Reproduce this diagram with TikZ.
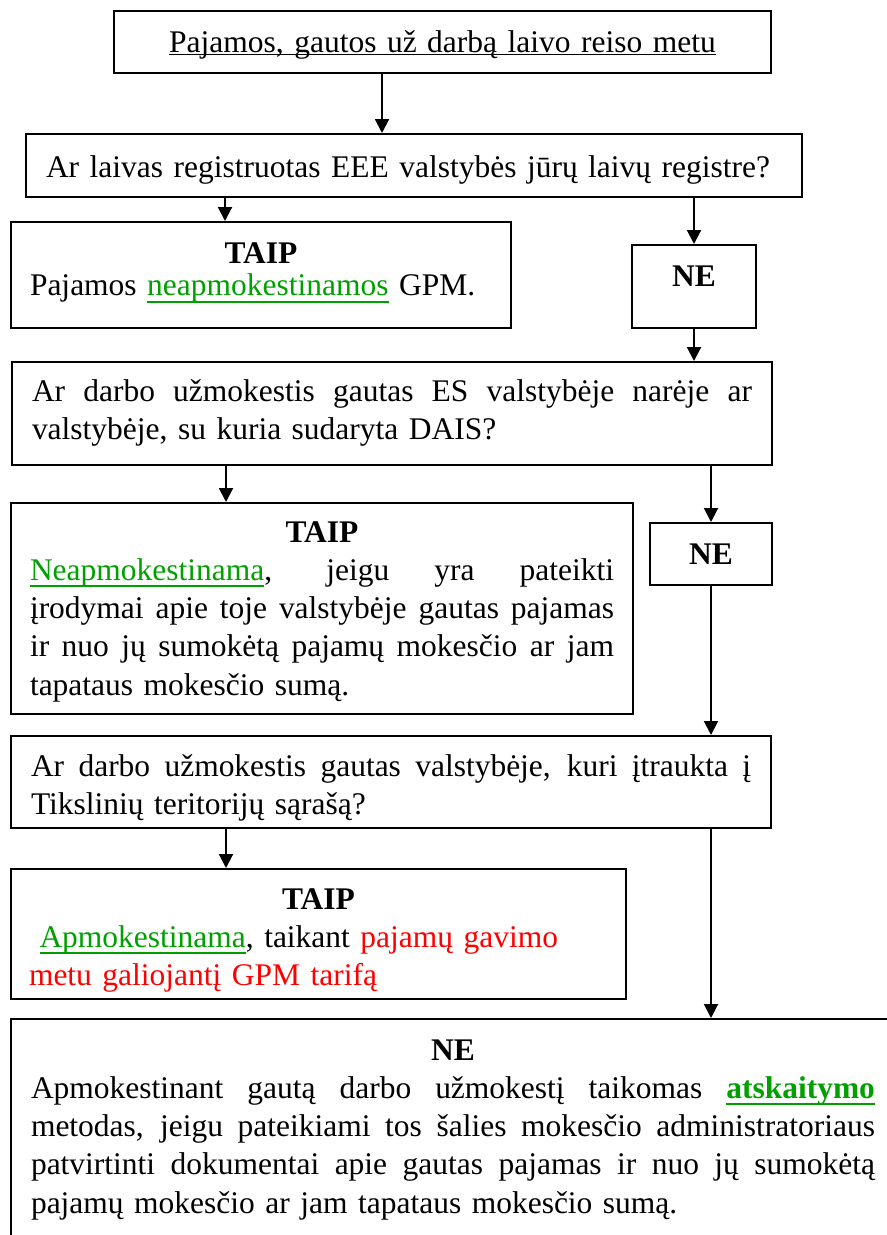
\documentclass[tikz,border=0pt]{standalone}
\usepackage{fontspec}
\setmainfont{Liberation Serif}
\usetikzlibrary{arrows.meta}
\definecolor{ltgreen}{RGB}{0,160,0}
\definecolor{ltred}{RGB}{255,0,0}
\newdimen\pxu \pxu=0.37313pt
\newcommand{\jline}[1]{{\leftskip=0pt\rightskip=0pt\spaceskip=0.25em plus 1fil\parfillskip=0pt #1\par}}
\newcommand{\uln}[2][2.6pt]{\setbox0\hbox{#2}\rlap{\rule[-#1]{\wd0}{0.7pt}}\box0}
\tikzset{
  box/.style={draw, line width=0.75pt, anchor=north west, inner ysep=0pt,
    inner xsep=20\pxu, font=\fontsize{11.75pt}{14.3pt}\selectfont},
  arr/.style={-{Triangle[length=5.2pt,width=5.2pt]}, line width=0.75pt},
}
\begin{document}
\begin{tikzpicture}[x=0.37313pt, y=-0.37313pt]
    \useasboundingbox (0,0) rectangle (887,1235);
    \clip (0,0) rectangle (887,1235);
    \node[box, inner xsep=0pt, text width=657\pxu, text height=41\pxu, text depth=21\pxu] (title) at (113,10) {\centering\uln[1.3pt]{Pajamos, gautos už darbą laivo reiso metu}\par};
    \node[box, text width=736\pxu, text height=43\pxu, text depth=20\pxu] (q1) at (25,133) {\mbox{Ar laivas registruotas EEE valstybės jūrų laivų registre?}};
    \node[box, inner xsep=19\pxu, text width=462\pxu, text height=41\pxu, text depth=65\pxu, font=\fontsize{11.75pt}{12.3pt}\selectfont] (yes1) at (10,221) {{\centering\textbf{TAIP}\par}
      Pajamos \textcolor{ltgreen}{\uln{neapmokestinamos}} GPM.};
    \node[box, inner xsep=0pt, text width=124\pxu, text height=41\pxu, text depth=42\pxu] (no1) at (631,244) {\centering\textbf{NE}\par};
    %%%%%%%%%%%%%%%%%%%%%%%%%%%%%%%%%%
    \node[box, text width=720\pxu, text height=39\pxu, text depth=64\pxu] (q2) at (11,361) {\jline{Ar darbo užmokestis gautas ES valstybėje narėje ar}
      valstybėje, su kuria sudaryta DAIS?};
    \node[box, inner xsep=19\pxu, text width=584\pxu, text height=39\pxu, text depth=172\pxu] (yes2) at (10,502) {{\centering\textbf{TAIP}\par}
      \jline{\textcolor{ltgreen}{\uln{Neapmokestinama}}, jeigu yra pateikti}
      \jline{įrodymai apie toje valstybėje gautas pajamas}
      \jline{ir nuo jų sumokėtą pajamų mokesčio ar jam}
      tapataus mokesčio sumą.};
    \node[box, inner xsep=0pt, text width=122\pxu, text height=41\pxu, text depth=21\pxu] (no2) at (649,522) {\centering\textbf{NE}\par};
    %%%%%%%%%%%%%%%%%%%%%%%%%%%%%%%%%%
    \node[box, text width=720\pxu, text height=40\pxu, text depth=52\pxu] (q3) at (10,735) {\jline{Ar darbo užmokestis gautas valstybėje, kuri įtraukta į}
      Tikslinių teritorijų sąrašą?};
    \node[box, inner xsep=18\pxu, text width=579\pxu, text height=40\pxu, text depth=90\pxu] (yes3) at (10,868) {{\centering\textbf{TAIP}\par}
      \ \textcolor{ltgreen}{\uln{Apmokestinama}}, taikant \textcolor{ltred}{pajamų gavimo\\ metu galiojantį GPM tarifą}};
    \node[box, text width=844\pxu, text height=41\pxu, text depth=260\pxu] (no3) at (10,1018) {{\centering\textbf{NE}\par}
      \jline{Apmokestinant gautą darbo užmokestį taikomas \textbf{\textcolor{ltgreen}{\uln{atskaitymo}}}}
      \jline{metodas, jeigu pateikiami tos šalies mokesčio administratoriaus}
      \jline{patvirtinti dokumentai apie gautas pajamas ir nuo jų sumokėtą}
      pajamų mokesčio ar jam tapataus mokesčio sumą.};
    %%%%%%%%%%%%%%%%%%%%%%%%%%%%%%%%%%
    \coordinate (s1) at ([xshift=-60.5\pxu]title.south);
    \coordinate (s2) at ([xshift=-189\pxu]q1.south);
    \coordinate (s3) at ([xshift=-166\pxu]q2.south);
    \coordinate (s4) at ([xshift=-165\pxu]q3.south);
    \draw[arr] (s1) -- (s1 |- q1.north); % titre
    \draw[arr] (s2) -- (s2 |- yes1.north); % taip 1
    \draw[arr] (no1.north |- q1.south) -- (no1.north); % ne 1
    \draw[arr] (no1.south) -- (no1.south |- q2.north);
    \draw[arr] (s3) -- (s3 |- yes2.north); % taip 2
    \draw[arr] (no2.north |- q2.south) -- (no2.north); % ne 2
    \draw[arr] (no2.south) -- (no2.south |- q3.north);
    \draw[arr] (s4) -- (s4 |- yes3.north); % taip 3
    \draw[arr] (no2.south |- q3.south) -- (no2.south |- no3.north); % ne 3
\end{tikzpicture}
\end{document}
